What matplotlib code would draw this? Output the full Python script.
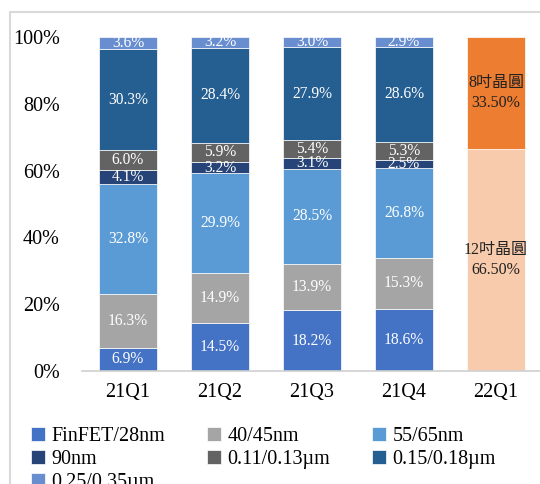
import matplotlib
matplotlib.use("Agg")
import matplotlib.pyplot as plt
from matplotlib.patches import Rectangle

plt.rcParams['font.family'] = ['Liberation Serif', 'Noto Sans CJK TC', 'DejaVu Sans']

quarters = ["21Q1", "21Q2", "21Q3", "21Q4"]
nodes = ["FinFET/28nm", "40/45nm", "55/65nm", "90nm",
         "0.11/0.13µm", "0.15/0.18µm", "0.25/0.35µm"]
node_colors = ["#4472C4", "#A5A5A5", "#5B9BD5", "#264478",
               "#636363", "#255E91", "#698ED0"]
# share (%) per node, one list per node, ordered by quarter
shares = [
    [6.9, 14.5, 18.2, 18.6],
    [16.3, 14.9, 13.9, 15.3],
    [32.8, 29.9, 28.5, 26.8],
    [4.1, 3.2, 3.1, 2.5],
    [6.0, 5.9, 5.4, 5.3],
    [30.3, 28.4, 27.9, 28.6],
    [3.6, 3.2, 3.0, 2.9],
]

wafer_quarter = "22Q1"
wafer_labels = ["12吋晶圓", "8吋晶圓"]
wafer_shares = [66.50, 33.50]
wafer_colors = ["#F8CBAD", "#ED7D31"]

categories = quarters + [wafer_quarter]

W, H = 540, 484
fig = plt.figure(figsize=(W / 100, H / 100), dpi=100)
ax = fig.add_axes([82 / W, (H - 371) / H, 460 / W, 334 / H])

bar_w = 0.63
xs = list(range(len(quarters)))
bottoms = [0.0] * len(quarters)
handles = []
for name, color, vals in zip(nodes, node_colors, shares):
    bars = ax.bar(xs, vals, bar_w, bottom=bottoms, color=color, label=name,
                  edgecolor="white", linewidth=0.5)
    handles.append(bars)
    for x, b, v in zip(xs, bottoms, vals):
        ax.text(x, b + v / 2, f"{v:.1f}%", ha="center", va="center",
                color="white", fontsize=11.2)
    bottoms = [b + v for b, v in zip(bottoms, vals)]

xw = len(quarters)
b = 0.0
for lab, v, c in zip(wafer_labels, wafer_shares, wafer_colors):
    ax.bar([xw], [v], bar_w, bottom=[b], color=c, edgecolor="white", linewidth=0.5)
    ax.text(xw, b + v / 2, f"{lab}\n{v:.2f}%", ha="center", va="center",
            color="#222222", fontsize=11.5, linespacing=1.4)
    b += v

ax.set_xlim(-0.5, len(categories) - 0.5)
ax.set_ylim(0, 100)
ax.set_yticks([0, 20, 40, 60, 80, 100])
ax.set_yticklabels([f"{t}%" for t in [0, 20, 40, 60, 80, 100]])
ax.set_xticks(range(len(categories)))
ax.set_xticklabels(categories)
ax.tick_params(axis="both", length=0, labelsize=14.5, colors="black")
ax.tick_params(axis="y", pad=16)
ax.tick_params(axis="x", pad=9)
for s in ["top", "right", "left"]:
    ax.spines[s].set_visible(False)
ax.spines["bottom"].set_color("#D0D0D0")
ax.spines["bottom"].set_linewidth(1.2)

# legend laid out row by row across three columns
order = [0, 3, 6, 1, 4, 2, 5]
fig.legend([handles[i] for i in order], [nodes[i] for i in order],
           loc="upper left", bbox_to_anchor=(31 / W, 1 - 427 / H), ncol=3,
           frameon=False, fontsize=14.5, handlelength=0.7, handleheight=0.7,
           handletextpad=0.3, columnspacing=2.1, labelspacing=0.2,
           borderpad=0, borderaxespad=0)

# chart frame
fig.add_artist(Rectangle((10 / W, -0.1), 1.2, (H - 12) / H + 0.1,
                         transform=fig.transFigure, fill=False,
                         edgecolor="#D9D9D9", linewidth=1.5))

fig.savefig("out.png", dpi=100)
